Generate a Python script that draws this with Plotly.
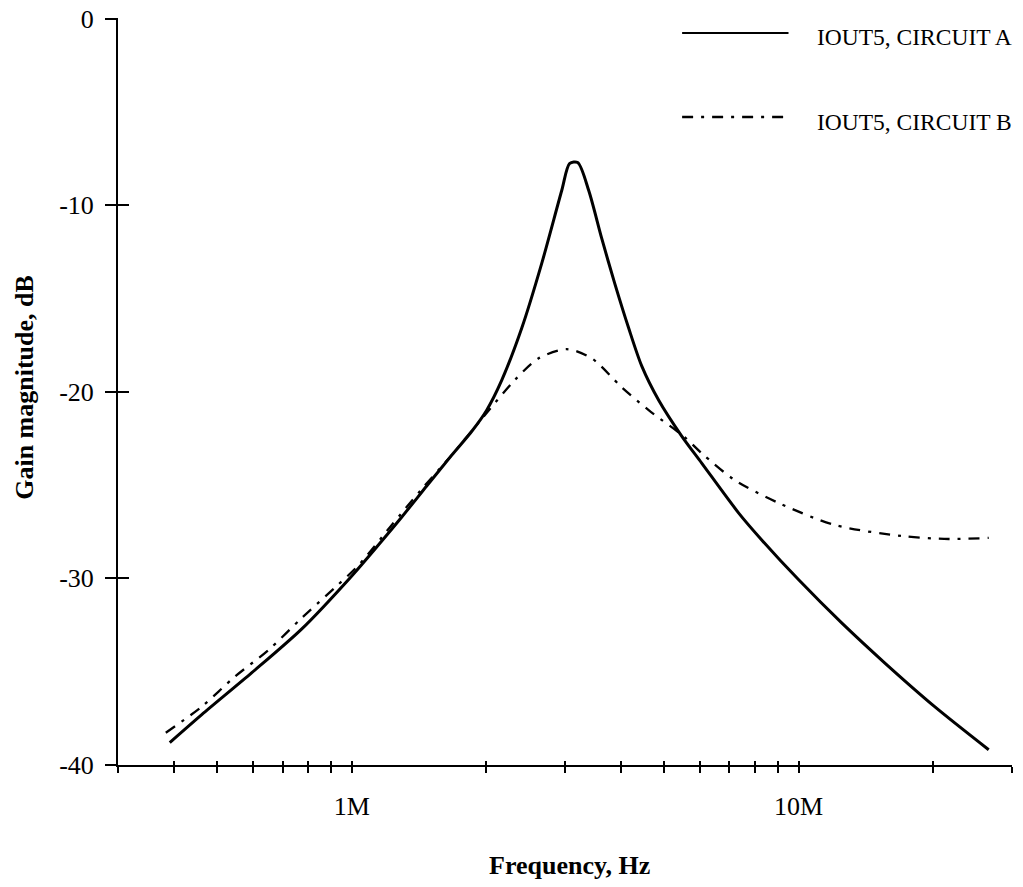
import numpy as np
import plotly.graph_objects as go

# ---- data (frequency in Hz, gain in dB) ----
freq_a = [0.3915e6, 0.4617e6, 0.5976e6, 0.7731e6, 1.0e6, 1.137e6, 1.294e6, 1.471e6,
          1.674e6, 1.856e6, 2.004e6, 2.166e6, 2.400e6, 2.661e6, 2.950e6, 3.074e6, 3.203e6,
          3.390e6, 3.625e6, 3.876e6, 4.166e6, 4.456e6, 4.862e6, 5.473e6, 6.067e6, 7.342e6,
          8.266e6, 10.0e6, 12.48e6, 15.57e6, 20.15e6, 26.62e6]
gain_a = [-38.82, -37.32, -35.07, -32.72, -29.88, -28.33, -26.72, -25.06,
          -23.40, -22.12, -20.99, -19.38, -16.60, -13.12, -9.21, -7.76, -7.71,
          -9.21, -11.78, -14.19, -16.60, -18.63, -20.46, -22.38, -23.83, -26.51,
          -27.95, -30.09, -32.40, -34.54, -36.89, -39.20]

freq_b = [0.3836e6, 0.4617e6, 0.5471e6, 0.652e6, 0.7731e6, 0.9161e6, 1.037e6, 1.229e6,
          1.434e6, 1.674e6, 1.984e6, 2.315e6, 2.620e6, 3.027e6, 3.443e6, 4.018e6,
          4.617e6, 5.559e6, 6.067e6, 7.191e6, 9.021e6, 12.04e6, 17.0e6, 21.66e6, 26.62e6]
gain_b = [-38.29, -36.89, -35.29, -33.84, -32.13, -30.52, -29.29, -27.15,
          -25.22, -23.40, -21.26, -19.38, -18.21, -17.72, -18.21, -19.76,
          -20.99, -22.44, -23.30, -24.74, -25.97, -27.15, -27.74, -27.90, -27.84]

x_tickvals = [3e5, 4e5, 5e5, 6e5, 7e5, 8e5, 9e5, 1e6, 2e6, 3e6, 4e6, 5e6, 6e6, 7e6,
              8e6, 9e6, 1e7, 2e7, 3e7]
x_ticktext = ["", "", "", "", "", "", "", "1M", "", "", "", "", "", "", "", "", "10M", "", ""]
y_tickvals = [-40, -30, -20, -10, 0]
y_ticktext = ["-40", "-30", "-20", "-10", "0"]

name_a = "IOUT5, CIRCUIT A"
name_b = "IOUT5, CIRCUIT B"
x_title = "Frequency, Hz"
y_title = "Gain magnitude, dB"

FONT = "Liberation Serif"
x_range = [np.log10(3e5) - 0.0002, np.log10(3e7) + 0.0002]
y_range = [-40.02, 0.04]
DASHDOT = "11px,8px,3px,8px"

fig = go.Figure()
fig.add_trace(go.Scatter(x=freq_a, y=gain_a, mode="lines", name=name_a,
                         line=dict(color="black", width=3, shape="spline", smoothing=0.8),
                         showlegend=False))
fig.add_trace(go.Scatter(x=freq_b, y=gain_b, mode="lines", name=name_b,
                         line=dict(color="black", width=2.3, dash=DASHDOT, shape="spline", smoothing=0.8),
                         showlegend=False))
# empty trace to register the overlay axes used for crossing tick marks
fig.add_trace(go.Scatter(x=[], y=[], xaxis="x2", yaxis="y2", showlegend=False, hoverinfo="skip"))

fig.update_layout(
    width=1023, height=887,
    margin=dict(l=118, r=11, t=18, b=122, autoexpand=False),
    paper_bgcolor="white", plot_bgcolor="white",
    font=dict(family=FONT, color="black", size=24),
    showlegend=False,
    xaxis=dict(type="log", range=x_range, tickvals=x_tickvals, ticktext=x_ticktext,
               ticks="outside", ticklen=6, tickwidth=2, tickcolor="black", automargin=False,
               showline=True, linecolor="black", linewidth=2, showgrid=False, zeroline=False,
               tickfont=dict(family=FONT, size=26), ticklabelstandoff=11,
               ticklabeloverflow="allow"),
    yaxis=dict(range=y_range, tickvals=y_tickvals, ticktext=y_ticktext,
               ticks="outside", ticklen=11, tickwidth=2, tickcolor="black", automargin=False,
               showline=True, linecolor="black", linewidth=2, showgrid=False, zeroline=False,
               tickfont=dict(family=FONT, size=26), ticklabelstandoff=6,
               ticklabeloverflow="allow"),
    xaxis2=dict(type="log", range=x_range, tickvals=x_tickvals, overlaying="x", anchor="y",
                ticks="inside", ticklen=4, tickwidth=2, tickcolor="black", showticklabels=False,
                showline=False, showgrid=False, zeroline=False, automargin=False),
    yaxis2=dict(range=y_range, tickvals=y_tickvals, overlaying="y", anchor="x", side="left",
                ticks="inside", ticklen=11, tickwidth=2, tickcolor="black", showticklabels=False,
                showline=False, showgrid=False, zeroline=False, automargin=False),
)

# axis titles
fig.add_annotation(xref="paper", yref="paper", x=0.505, y=-0.135, text="<b>" + x_title + "</b>",
                   showarrow=False, xanchor="center", yanchor="middle",
                   font=dict(family=FONT, size=26, color="black"))
fig.add_annotation(xref="paper", yref="paper", x=-0.104, y=0.505, text="<b>" + y_title + "</b>",
                   showarrow=False, xanchor="center", yanchor="middle", textangle=-90,
                   font=dict(family=FONT, size=26, color="black"))

# legend drawn in the top-right corner of the plot area
legend_items = [(name_a, "solid", 0.98, 0.974), (name_b, DASHDOT, 0.8675, 0.861)]
for label, dash, yl, yt in legend_items:
    fig.add_shape(type="line", xref="paper", yref="paper", x0=0.631, x1=0.75, y0=yl, y1=yl,
                  line=dict(color="black", width=2 if dash == "solid" else 2.3, dash=dash))
    fig.add_annotation(xref="paper", yref="paper", x=0.780, y=yt, text=label, showarrow=False,
                       xanchor="left", yanchor="middle", font=dict(family=FONT, size=23.5, color="black"))

# remove the default page margin so the figure fills the window exactly
fig.write_html("out.html", config={"displayModeBar": False},
               post_script="document.body.style.margin='0px';document.body.style.overflow='hidden';")
